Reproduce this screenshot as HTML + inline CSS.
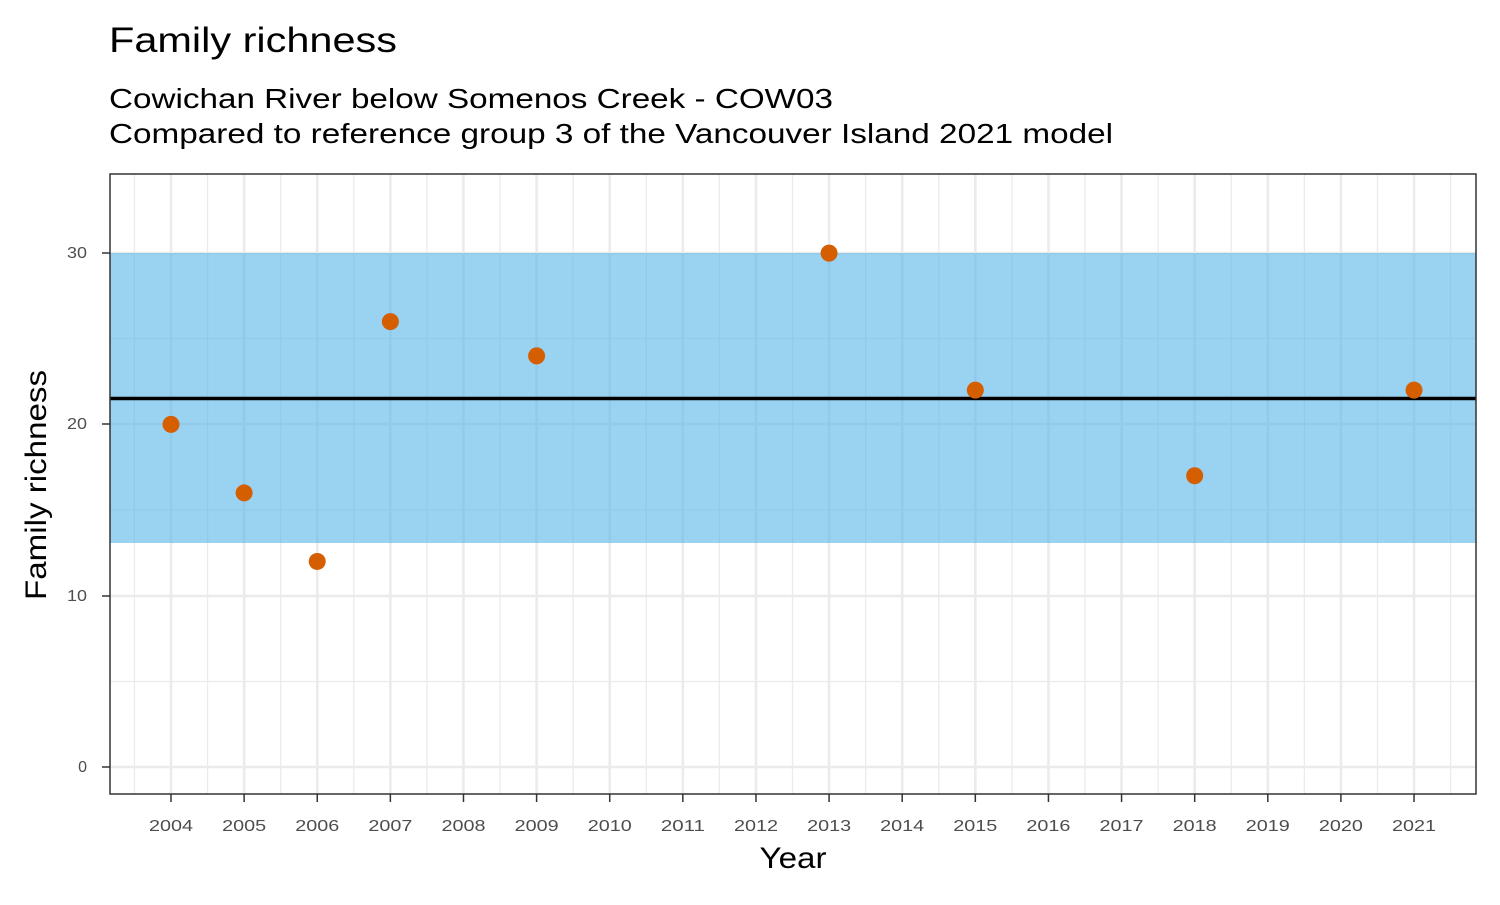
<!DOCTYPE html>
<html><head><meta charset="utf-8"><style>body{margin:0;background:#fff}</style></head><body>
<svg width="1500" height="900" xmlns="http://www.w3.org/2000/svg" font-family="Liberation Sans, Arial, sans-serif">
<rect width="1500" height="900" fill="#fff"/>
<text x="109" y="52" font-size="35" fill="#000" textLength="288" lengthAdjust="spacingAndGlyphs">Family richness</text>
<text x="109" y="108" font-size="28" fill="#000" textLength="724" lengthAdjust="spacingAndGlyphs">Cowichan River below Somenos Creek - COW03</text>
<text x="109" y="143" font-size="28" fill="#000" textLength="1004" lengthAdjust="spacingAndGlyphs">Compared to reference group 3 of the Vancouver Island 2021 model</text>
<g id="grid">
<g stroke="#ebebeb" stroke-width="1.3">
<line x1="110" x2="1476" y1="681.5" y2="681.5"/><line x1="110" x2="1476" y1="510" y2="510"/><line x1="110" x2="1476" y1="338.5" y2="338.5"/>
</g>
<g stroke="#ebebeb" stroke-width="2.6">
<line x1="110" x2="1476" y1="767" y2="767"/><line x1="110" x2="1476" y1="596" y2="596"/><line x1="110" x2="1476" y1="424" y2="424"/><line x1="110" x2="1476" y1="253" y2="253"/>
</g>
<g id="vg"></g>
</g>
<rect x="110" y="253" width="1366" height="290" fill="#56B4E9" fill-opacity="0.6"/>
<line x1="110" x2="1476" y1="398.5" y2="398.5" stroke="#000" stroke-width="3.5"/>
<g fill="#D55E00" id="pts"></g>
<rect x="110" y="174" width="1366" height="620" fill="none" stroke="#333" stroke-width="1.5"/>
<g font-size="16" fill="#4d4d4d" text-anchor="end">
<text x="87" y="772">0</text><text x="87" y="601" textLength="20" lengthAdjust="spacingAndGlyphs">10</text><text x="87" y="429" textLength="20" lengthAdjust="spacingAndGlyphs">20</text><text x="87" y="258" textLength="20" lengthAdjust="spacingAndGlyphs">30</text>
</g>
<g stroke="#333" stroke-width="1.5">
<line x1="102" x2="110" y1="767" y2="767"/><line x1="102" x2="110" y1="596" y2="596"/><line x1="102" x2="110" y1="424" y2="424"/><line x1="102" x2="110" y1="253" y2="253"/>
</g>
<g id="xt" font-size="16" fill="#4d4d4d" text-anchor="middle"></g>
<text x="793" y="868" font-size="30" text-anchor="middle" fill="#000" textLength="67" lengthAdjust="spacingAndGlyphs">Year</text>
<text transform="translate(46,485) rotate(-90)" font-size="30" text-anchor="middle" fill="#000" textLength="230" lengthAdjust="spacingAndGlyphs">Family richness</text>
</svg>
<script>
var ns="http://www.w3.org/2000/svg";
function X(y){return 171+(y-2004)*73.12;}
function Y(v){return 767-v*17.13;}
var vg=document.getElementById("vg"),xt=document.getElementById("xt");
for(var y=2003.5;y<=2021.5;y+=0.5){var l=document.createElementNS(ns,"line");var x=X(y);
l.setAttribute("x1",x);l.setAttribute("x2",x);l.setAttribute("y1",174);l.setAttribute("y2",794);
l.setAttribute("stroke","#ebebeb");l.setAttribute("stroke-width",y%1==0?2.6:1.3);vg.appendChild(l);}
for(var y=2004;y<=2021;y++){var x=X(y);var t=document.createElementNS(ns,"text");t.setAttribute("x",x);t.setAttribute("y",831);t.setAttribute("textLength",44);t.setAttribute("lengthAdjust","spacingAndGlyphs");t.textContent=y;xt.appendChild(t);
var k=document.createElementNS(ns,"line");k.setAttribute("x1",x);k.setAttribute("x2",x);k.setAttribute("y1",794);k.setAttribute("y2",802);k.setAttribute("stroke","#333");k.setAttribute("stroke-width",1.5);xt.appendChild(k);}
var d=[[2004,20],[2005,16],[2006,12],[2007,26],[2009,24],[2013,30],[2015,22],[2018,17],[2021,22]];
var p=document.getElementById("pts");
d.forEach(function(a){var c=document.createElementNS(ns,"circle");c.setAttribute("cx",X(a[0]));c.setAttribute("cy",Y(a[1]));c.setAttribute("r",8.5);p.appendChild(c);});
</script>
</body></html>
